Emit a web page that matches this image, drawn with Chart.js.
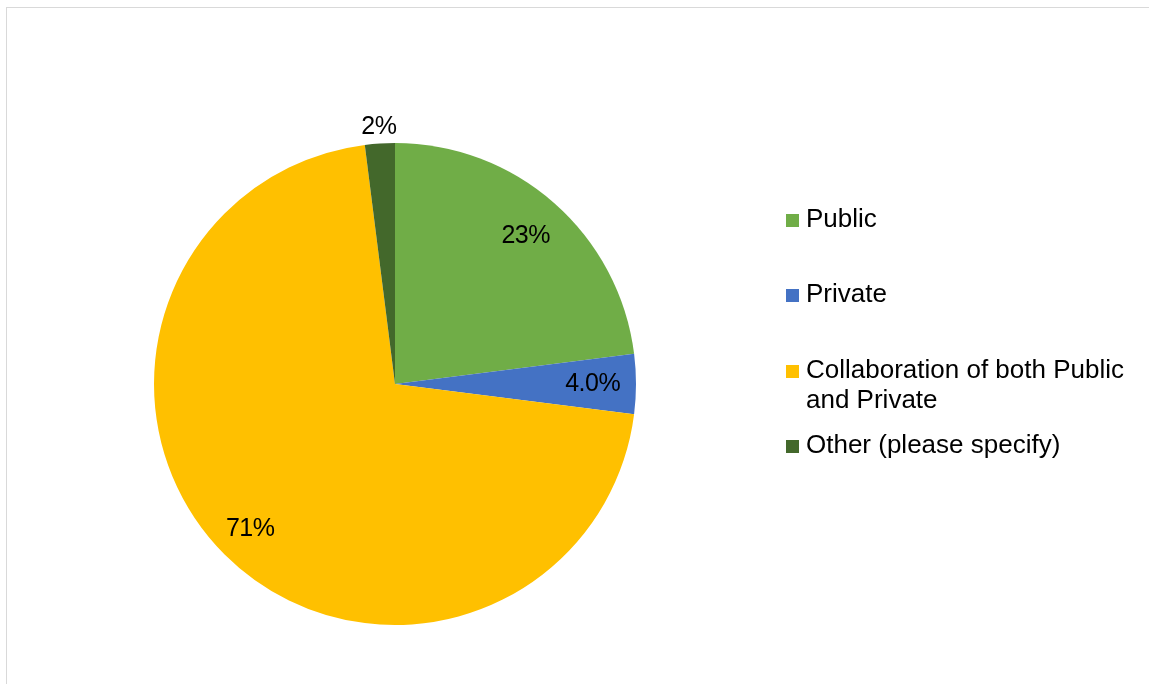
<!DOCTYPE html>
<html>
<head>
<meta charset="utf-8">
<script src="https://cdn.jsdelivr.net/npm/chart.js@4/dist/chart.umd.min.js"></script>
<style>
  html, body { margin: 0; padding: 0; background: #ffffff; }
  body { width: 1149px; height: 684px; position: relative; overflow: hidden; font-family: "Liberation Sans", Arial, sans-serif; }
  #frame { position: absolute; left: 6px; top: 7px; width: 1200px; height: 720px; border-left: 1px solid #d9d9d9; border-top: 1px solid #d9d9d9; }
  #wrap { position: absolute; left: 0; top: 0; width: 1149px; height: 684px; }
  #legend { position: absolute; left: 786px; top: 0; width: 363px; height: 684px; }
  .item { position: absolute; left: 0; display: flex; align-items: flex-start; }
  .swatch { width: 13px; height: 13px; margin-top: 11px; margin-right: 7px; flex: none; }
  .txt { font-size: 26px; line-height: 30px; color: #000; width: 335px; }
</style>
</head>
<body>
<div id="frame"></div>
<div id="wrap"><canvas id="c" width="1149" height="684"></canvas></div>
<div id="legend"></div>
<script>
// Survey responses: who should lead / fund the initiative
const categories = ["Public", "Private", "Collaboration of both Public and Private", "Other (please specify)"];
const shares = [23, 4.0, 71, 2];          // percent of respondents
const shareDecimals = [0, 1, 0, 0];      // digits shown on each slice label
const sliceColors = ["#70AD47", "#4472C4", "#FFC000", "#43682B"];

// legend row tops (px) in the right-hand column
const legendTops = [203, 278, 354, 429];

// slice value labels: inside slices, tiny slices pushed outside the rim
const sliceLabels = {
  id: "sliceLabels",
  afterDatasetsDraw(chart) {
    const ctx = chart.ctx;
    const meta = chart.getDatasetMeta(0);
    const data = chart.data.datasets[0].data;
    ctx.save();
    ctx.font = '25px "Liberation Sans", Arial, sans-serif';
    ctx.fillStyle = "#000000";
    ctx.textAlign = "center";
    ctx.textBaseline = "middle";
    if ('letterSpacing' in ctx) ctx.letterSpacing = "-0.5px";
    meta.data.forEach((arc, i) => {
      const p = arc.getProps(["x", "y", "startAngle", "endAngle", "outerRadius"], true);
      const mid = (p.startAngle + p.endAngle) / 2;
      const frac = data[i] < 3 ? 1.07 : (data[i] > 50 ? 0.85 : 0.82);
      const r = p.outerRadius * frac;
      const tx = p.x + Math.cos(mid) * r;
      const ty = p.y + Math.sin(mid) * r;
      ctx.fillText(data[i].toFixed(shareDecimals[i]) + "%", tx, ty);
    });
    ctx.restore();
  }
};

new Chart(document.getElementById("c"), {
  type: "pie",
  data: {
    labels: categories,
    datasets: [{
      data: shares,
      backgroundColor: sliceColors,
      borderWidth: 0
    }]
  },
  options: {
    responsive: false,
    animation: false,
    layout: { padding: { left: 154, right: 513, top: 143, bottom: 59 } },
    plugins: {
      legend: { display: false },
      tooltip: { enabled: false }
    }
  },
  plugins: [sliceLabels]
});

// right-hand legend built from the same category and colour arrays
const legendEl = document.getElementById("legend");
categories.forEach((name, i) => {
  const item = document.createElement("div");
  item.className = "item";
  item.style.top = legendTops[i] + "px";
  const sw = document.createElement("div");
  sw.className = "swatch";
  sw.style.background = sliceColors[i];
  const tx = document.createElement("div");
  tx.className = "txt";
  tx.textContent = name;
  item.appendChild(sw);
  item.appendChild(tx);
  legendEl.appendChild(item);
});
</script>
</body>
</html>
